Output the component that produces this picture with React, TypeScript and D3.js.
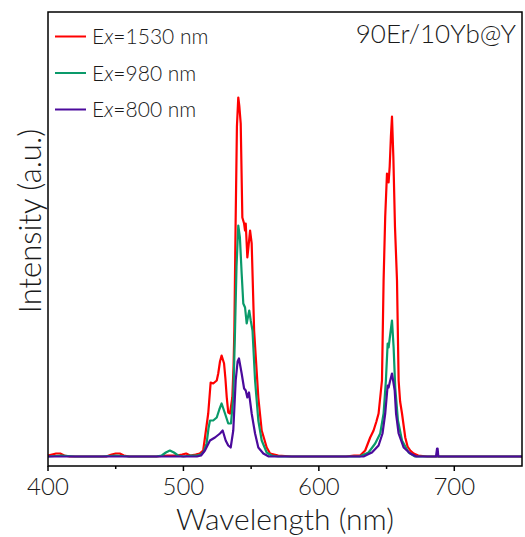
import React from 'react';
import * as d3 from 'd3';

// emission spectra (wavelength nm, intensity a.u.)
const red1530: [number, number][] = [
  [400, 1], [403, 2], [406, 3], [409, 3], [412, 1], [416, 0], [425, 0], [435, 0], [443, 0],
  [447, 2], [450, 3], [453, 3], [456, 1], [460, 0], [470, 0], [480, 0], [488, 1], [495, 1],
  [499, 2], [502, 3], [505, 1], [509, 2], [512, 3], [514.6, 6], [516.5, 25], [518.3, 43],
  [520.1, 74], [522, 73], [524.6, 76], [525.7, 83], [527, 95], [528.2, 101], [530, 93],
  [531, 78], [532, 59], [533.1, 44], [534.4, 43], [536.1, 59], [537, 90], [537.6, 126],
  [538.5, 230], [539.5, 330], [540.5, 359], [541.3, 350], [542.3, 333], [543.5, 239],
  [544.8, 233], [545.5, 226], [546, 233], [547.2, 199], [548.2, 212], [549.2, 226],
  [550.4, 213], [552.2, 126], [555.3, 59], [557.8, 26], [561.5, 9], [564, 3], [570, 1],
  [580, 0], [590, 0], [600, 0], [610, 0], [620, 0], [626, 1], [630.5, 1], [634.2, 6],
  [637.9, 19], [640.4, 26], [642.5, 35], [644.1, 43], [646.6, 76], [647.8, 176], [649, 240],
  [650.3, 283], [651, 280], [651.5, 274], [652.3, 290], [653.2, 320], [654, 340], [655, 300],
  [656.2, 230], [657.7, 176], [658.9, 76], [660, 55], [661.4, 43], [663.8, 19], [665.5, 10],
  [667.5, 6], [670, 3], [673.4, 1], [680, 0], [690, 0], [700, 0], [710, 0], [720, 0],
  [730, 0], [740, 0], [750, 0],
];

const green980: [number, number][] = [
  [400, 0], [410, 1], [420, 0], [440, 0], [450, 1], [460, 0], [470, 0], [480, 0], [484, 1],
  [487, 4], [490, 6], [493, 4], [496, 1], [500, 0], [505, 1], [510, 1], [513, 2], [515, 5],
  [517.1, 13], [518.5, 28], [519.6, 36], [522, 36], [524.6, 39], [526.5, 47], [528.2, 53],
  [530.7, 43], [533.1, 33], [535.1, 33], [536.8, 59], [538.1, 126], [539.2, 190],
  [540.5, 231], [541.7, 219], [543, 183], [544.2, 153], [545.5, 149], [546.7, 133],
  [548.6, 146], [549.7, 136], [551, 126], [552.9, 76], [555.3, 36], [557.8, 16], [561.5, 4],
  [565, 1], [570, 0], [580, 0], [600, 0], [620, 0], [630, 0], [636.7, 4], [641.6, 13],
  [645.3, 23], [647.8, 43], [649.5, 76], [650.8, 113], [651.5, 109], [652.5, 120], [654, 136],
  [655.2, 109], [656.4, 69], [658.4, 36], [661.4, 16], [666.3, 4], [671, 0], [680, 0],
  [700, 0], [720, 0], [750, 0],
];

const purple800: [number, number][] = [
  [400, 0], [420, 0], [440, 0], [460, 0], [480, 0], [500, 0], [510, 0], [513, 1], [515.9, 6],
  [519.6, 16], [523.3, 19], [527, 23], [529, 26], [531.2, 16], [533.1, 11], [534.9, 9],
  [536.8, 26], [538.6, 76], [540, 95], [541, 98], [543, 83], [544.8, 68], [546, 66],
  [547.2, 59], [548.4, 64], [550.4, 43], [552.9, 23], [555.3, 9], [559, 3], [563, 0],
  [580, 0], [600, 0], [620, 0], [633, 0], [636, 2], [639.2, 4], [644.1, 11], [647, 23],
  [649, 43], [650.8, 71], [651.5, 69], [652.5, 75], [654, 83], [656, 66], [657, 43],
  [658.9, 23], [662.6, 9], [667.5, 3], [672, 0], [680, 0], [686.5, 0], [687.3, 8],
  [687.7, 8], [688.2, 0], [695, 0], [710, 0], [730, 0], [750, 0],
];

const seriesNames = ['1530', '980', '800'];
const seriesColors = ['#ff0000', '#0a9a6a', '#4b0a9c'];
const seriesData = [red1530, green980, purple800];

const majorTicks = [400, 500, 600, 700];
const minorTicks = [450, 550, 650];

const W = 525;
const H = 537;
const margin = { top: 12, right: 3, bottom: 71, left: 48 };
const font = 'Lato, "Open Sans", sans-serif';

export default function App() {
  const x = d3.scaleLinear().domain([400, 750]).range([margin.left, W - margin.right]);
  const y = d3.scaleLinear().domain([-9.5, 444.5]).range([H - margin.bottom, margin.top]);
  const line = d3.line<[number, number]>().x(d => x(d[0])).y(d => y(d[1]));
  const bottom = H - margin.bottom;

  return (
    <svg width={W} height={H} style={{ position: 'absolute', left: 0, top: 0 }} fontFamily={font}>
      <rect x={0} y={0} width={W} height={H} fill="#fff" />
      {seriesData.map((d, i) => (
        <path key={i} d={line(d) || ''} fill="none" stroke={seriesColors[i]} strokeWidth={2.2} strokeLinejoin="round" />
      ))}
      <rect x={margin.left} y={margin.top} width={W - margin.left - margin.right} height={bottom - margin.top}
        fill="none" stroke="#000" strokeWidth={1.5} />
      {majorTicks.map(t => (
        <g key={t}>
          <line x1={x(t)} x2={x(t)} y1={bottom} y2={bottom + 5} stroke="#000" strokeWidth={1.5} />
          <text x={x(t)} y={bottom + 29} textAnchor="middle" fontSize={24} fontWeight={300} fill="#1a1a1a">{t}</text>
        </g>
      ))}
      {minorTicks.map(t => (
        <line key={t} x1={x(t)} x2={x(t)} y1={bottom} y2={bottom + 3} stroke="#000" strokeWidth={1.5} />
      ))}
      <text x={285} y={530} textAnchor="middle" fontSize={30} fontWeight={300} fill="#1a1a1a">
        Wavelength (nm)
      </text>
      <text transform="translate(41,221) rotate(-90)" textAnchor="middle" fontSize={31} fontWeight={300} fill="#1a1a1a">
        Intensity (a.u.)
      </text>
      {seriesNames.map((n, i) => (
        <g key={n}>
          <line x1={55} x2={86} y1={36.5 + i * 36.5} y2={36.5 + i * 36.5} stroke={seriesColors[i]} strokeWidth={2} />
          <text x={92} y={44 + i * 36.5} fontSize={21} fontWeight={300} fill="#1a1a1a">
            E<tspan fontStyle="italic">x</tspan>={n} nm
          </text>
        </g>
      ))}
      <text x={516} y={43} textAnchor="end" fontSize={26} fontWeight={300} fill="#1a1a1a">90Er/10Yb@Y</text>
    </svg>
  );
}
